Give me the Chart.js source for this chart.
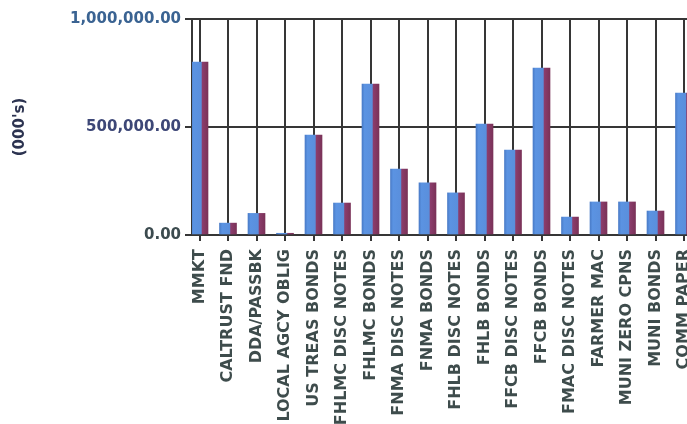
<!DOCTYPE html>
<html>
<head>
<meta charset="utf-8">
<script src="https://cdn.jsdelivr.net/npm/chart.js@4"></script>
<style>
  html, body { margin: 0; padding: 0; background: #fff; }
  #wrap { position: absolute; left: 0; top: 0; width: 687px; height: 424px; overflow: hidden; }
</style>
</head>
<body>
<div id="wrap"><canvas id="barChart" width="720" height="460"></canvas></div>
<script>
// categories on the x axis
const categories = [
  "MMKT", "CALTRUST FND", "DDA/PASSBK", "LOCAL AGCY OBLIG", "US TREAS BONDS",
  "FHLMC DISC NOTES", "FHLMC BONDS", "FNMA DISC NOTES", "FNMA BONDS",
  "FHLB DISC NOTES", "FHLB BONDS", "FFCB DISC NOTES", "FFCB BONDS",
  "FMAC DISC NOTES", "FARMER MAC", "MUNI ZERO CPNS", "MUNI BONDS", "COMM PAPER"
];
// holdings in (000's)
const holdings = [
  800000, 55000, 100000, 8000, 463000,
  148000, 699000, 305000, 241000,
  195000, 514000, 393000, 773000,
  83000, 153000, 153000, 111000, 657000
];
// y tick values and their label colours
const yTicks = [0, 500000, 1000000];
const yTickColors = ["#3c4b4f", "#3d4777", "#3a6392"];

const GRID = "#363636";
const SPACING = 28.5;      // px between category centres
const FIRST_OFFSET = 7.5;  // px from y axis to first centre
const PLOT_LEFT = 192;
const PLOT_BOTTOM = 235;
const CANVAS_W = 720, CANVAS_H = 460;

const xMin = -FIRST_OFFSET / SPACING;
const xMax = xMin + (CANVAS_W - PLOT_LEFT) / SPACING;

function barFill(c) {
  const chart = c.chart;
  const sx = chart.scales && chart.scales.x;
  if (c.type !== 'data' || !sx) return "#5a8ede";
  const x = sx.getPixelForValue(c.raw.x);
  if (!isFinite(x)) return "#5a8ede";
  const g = chart.ctx.createLinearGradient(x - 8.5, 0, x + 8.5, 0);
  g.addColorStop(0, "#4a7cc8");
  g.addColorStop(0.15, "#5b93e2");
  g.addColorStop(0.6, "#5a8fdc");
  g.addColorStop(0.66, "#8c3d6c");
  g.addColorStop(1, "#7a3258");
  return g;
}

const CHART = document.getElementById("barChart");
new Chart(CHART, {
  type: 'bar',
  data: {
    datasets: [{
      label: "Holdings",
      data: categories.map((c, i) => ({ x: i, y: holdings[i] })),
      backgroundColor: barFill,
      borderWidth: 0,
      barThickness: 17
    }]
  },
  options: {
    responsive: false,
    animation: false,
    layout: { padding: { top: 19, left: 0, right: 0, bottom: 0 } },
    plugins: { legend: { display: false }, tooltip: { enabled: false } },
    scales: {
      x: {
        type: 'linear',
        offset: false,
        min: xMin,
        max: xMax,
        afterBuildTicks: s => { s.ticks = categories.map((c, i) => ({ value: i })); },
        afterFit: s => { s.height = CANVAS_H - PLOT_BOTTOM; },
        grid: { offset: false, color: GRID, lineWidth: 2, tickLength: 6, tickColor: GRID },
        border: { color: GRID, width: 2 },
        ticks: {
          autoSkip: false,
          minRotation: 90,
          maxRotation: 90,
          padding: 8,
          color: "#3e4c4c",
          font: { family: "DejaVu Sans", weight: "bold", size: 16 },
          callback: v => categories[v] ?? ""
        }
      },
      y: {
        min: 0,
        max: 1000000,
        afterFit: s => { s.width = PLOT_LEFT; },
        afterBuildTicks: s => { s.ticks = yTicks.map(v => ({ value: v })); },
        grid: { color: GRID, lineWidth: 2, tickLength: 7, tickColor: GRID },
        border: { color: GRID, width: 2 },
        title: {
          display: true,
          text: "(000's)",
          color: "#2c3350",
          padding: { top: 11, bottom: 0 },
          font: { family: "DejaVu Sans", weight: "bold", size: 15 }
        },
        ticks: {
          padding: 4,
          color: c => yTickColors[c.index],
          font: { family: "DejaVu Sans", weight: "bold", size: 15 },
          callback: v => v.toLocaleString('en-US', { minimumFractionDigits: 2, maximumFractionDigits: 2 })
        }
      }
    }
  }
});
</script>
</body>
</html>
